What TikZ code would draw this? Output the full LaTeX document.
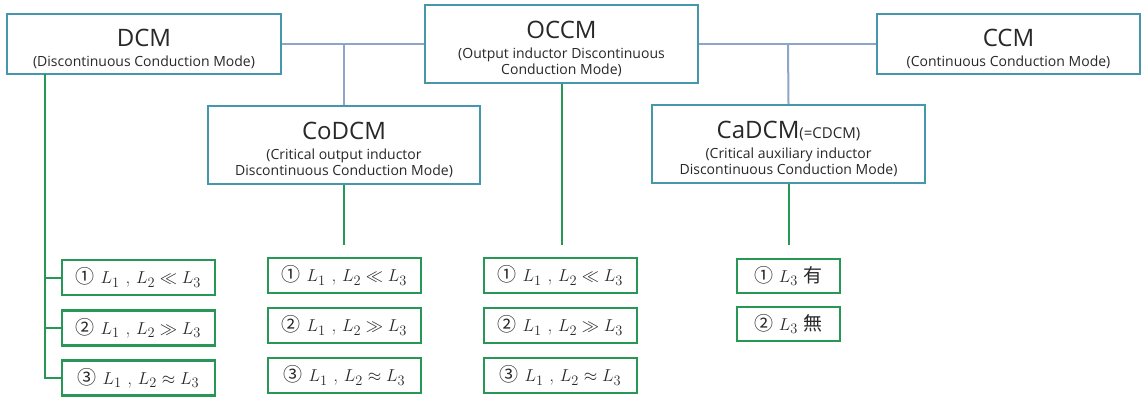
\documentclass[tikz,border=0pt]{standalone}
\usepackage{fontspec}
\setsansfont{Open Sans}
\newfontfamily\cjk{Noto Sans CJK KR}
\definecolor{topc}{RGB}{70,150,172}
\definecolor{linec}{RGB}{140,165,200}
\definecolor{grn}{RGB}{40,150,85}
\definecolor{txt}{RGB}{40,40,40}
\tikzset{
  topbox/.style={draw=topc, line width=2pt, fill=white, rectangle, inner sep=0pt, align=center, font=\sffamily\fontsize{14}{16}\selectfont, text=txt},
  leafbox/.style={draw=grn, line width=2.7pt, fill=white, rectangle, inner sep=0pt, minimum height=35pt, font=\fontsize{19}{21}\selectfont, text=txt},
  topline/.style={draw=linec, line width=2pt},
  gline/.style={draw=grn, line width=2pt},
}
\newcommand{\ttl}[1]{\rule{0pt}{27pt}{\fontsize{24}{26}\selectfont #1}}
\newcommand{\cn}[1]{{\cjk #1}}
\begin{document}
\begin{tikzpicture}[x=1pt,y=-1pt]
\useasboundingbox (0,0) rectangle (1145,397);
% top level
\node[topbox, minimum width=274pt, minimum height=60pt] (DCM) at (144,44) {\ttl{DCM}\\[4pt](Discontinuous Conduction Mode)};
\node[topbox, minimum width=273pt, minimum height=78pt] (OCCM) at (561.5,44) {\ttl{OCCM}\\[4pt](Output inductor Discontinuous\\Conduction Mode)};
\node[topbox, minimum width=263pt, minimum height=60pt] (CCM) at (1008.5,44) {\ttl{CCM}\\[4pt](Continuous Conduction Mode)};
\node[topbox, minimum width=272pt, minimum height=78pt] (CoDCM) at (344,145) {\ttl{CoDCM}\\[4pt](Critical output inductor\\Discontinuous Conduction Mode)};
\node[topbox, minimum width=273pt, minimum height=78pt] (CaDCM) at (788.5,144) {\ttl{CaDCM{\fontsize{15}{18}\selectfont(=CDCM)}}\\[4pt](Critical auxiliary inductor\\Discontinuous Conduction Mode)};
% leaves DCM
\node[leafbox, minimum width=153pt] (d1) at (138.5,277.5) {\cn{①} $L_1$ , $L_2 \ll L_3$};
\node[leafbox, minimum width=153pt] (d2) at (138.5,328) {\cn{②} $L_1$ , $L_2 \gg L_3$};
\node[leafbox, minimum width=153pt] (d3) at (138.5,378) {\cn{③} $L_1$ , $L_2 \approx L_3$};
% leaves CoDCM
\node[leafbox, minimum width=153pt] (c1) at (344.5,275.5) {\cn{①} $L_1$ , $L_2 \ll L_3$};
\node[leafbox, minimum width=153pt] (c2) at (344.5,325.5) {\cn{②} $L_1$ , $L_2 \gg L_3$};
\node[leafbox, minimum width=153pt] (c3) at (344.5,375.5) {\cn{③} $L_1$ , $L_2 \approx L_3$};
% leaves OCCM
\node[leafbox, minimum width=153pt] (o1) at (560.5,275.5) {\cn{①} $L_1$ , $L_2 \ll L_3$};
\node[leafbox, minimum width=153pt] (o2) at (560.5,325.5) {\cn{②} $L_1$ , $L_2 \gg L_3$};
\node[leafbox, minimum width=153pt] (o3) at (560.5,375.5) {\cn{③} $L_1$ , $L_2 \approx L_3$};
% leaves CaDCM
\node[leafbox, minimum width=103pt, minimum height=34pt] (a1) at (788.5,276) {\cn{①} $L_3$ \cn{有}};
\node[leafbox, minimum width=103pt, minimum height=34pt] (a2) at (788.5,324) {\cn{②} $L_3$ \cn{無}};
% top connectors
\coordinate (j1) at (344,44);
\coordinate (j2) at (788,44);
\draw[topline] (DCM.east) -- (OCCM.west);
\draw[topline] (OCCM.east) -- (CCM.west);
\draw[topline] (j1) -- (CoDCM.north);
\draw[topline] (j2) -- (CaDCM.north);
% green connectors
\coordinate (cend) at (344,245);
\coordinate (oend) at (561.5,245);
\coordinate (aend) at (788.5,245);
\draw[gline] (CoDCM.south) -- (cend);
\draw[gline] (OCCM.south) -- (oend);
\draw[gline] (CaDCM.south) -- (aend);
\coordinate (dtop) at (45,74);
\draw[gline] (dtop) |- (d3.west);
\draw[gline] (dtop |- d1.west) -- (d1.west);
\draw[gline] (dtop |- d2.west) -- (d2.west);
\end{tikzpicture}
\end{document}
